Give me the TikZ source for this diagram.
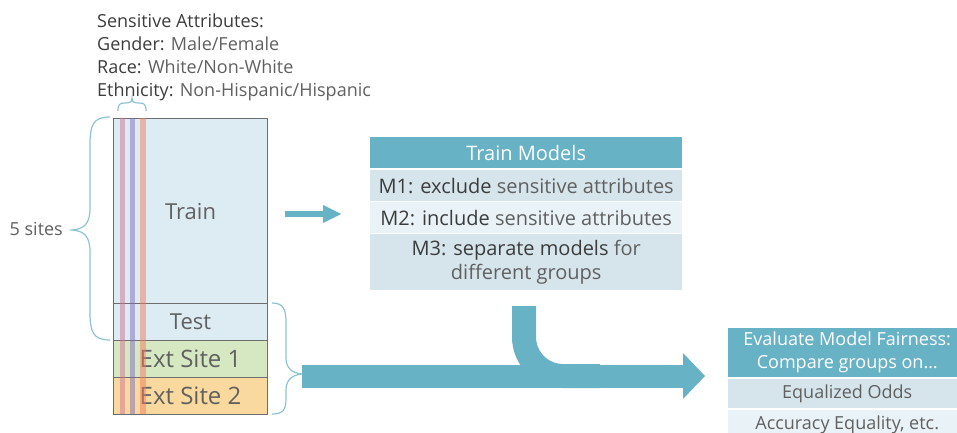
\documentclass[tikz,border=0pt]{standalone}
\usepackage{fontspec}
\setmainfont{Open Sans}
\usetikzlibrary{arrows.meta}
\definecolor{tealA}{HTML}{68B2C6}
\definecolor{braceC}{HTML}{8AC3D3}
\definecolor{trainfill}{HTML}{DCECF2}
\definecolor{extA}{HTML}{D5E8C2}
\definecolor{extB}{HTML}{F9D99E}
\definecolor{rowA}{HTML}{D6E5EC}
\definecolor{rowB}{HTML}{E9F3F7}
\definecolor{txtdark}{HTML}{3C3C3C}
\definecolor{txtlight}{HTML}{606060}
\definecolor{borderC}{HTML}{6E6E6E}
\definecolor{stripeP}{HTML}{D27298}
\definecolor{stripeB}{HTML}{7E6EBE}
\definecolor{stripeS}{HTML}{F47A5E}
\newcommand{\dk}[1]{{\color{txtdark}#1}}
\begin{document}
\begin{tikzpicture}[x=1pt,y=-1pt,
  section/.style={draw=borderC, line width=1.1pt, minimum width=154pt,
    anchor=north west, inner sep=0pt, text=txtlight,
    font=\fontsize{22}{26}\selectfont},
  extsection/.style={section, font=\fontsize{24}{28}\selectfont},
  hdr/.style={fill=tealA, text=white, anchor=north west, inner sep=0pt},
  rowbox/.style={anchor=north west, inner sep=0pt, text=txtlight},
  attr/.style={anchor=base west, inner sep=0pt, text=txtlight,
    font=\fontsize{18}{23}\selectfont},
  bracestyle/.style={draw=braceC, line width=1.2pt},
  band/.style={draw=tealA}
]
\clip (0,0) rectangle (957,433);

% sensitive attributes text
\node[attr] (attr1) at (97,28) {\dk{Sensitive Attributes:}};
\node[attr] (attr2) at (97,51) {\dk{Gender:} Male/Female};
\node[attr] (attr3) at (97,74) {\dk{Race:} White/Non-White};
\node[attr] (attr4) at (97,97) {\dk{Ethnicity:} Non-Hispanic/Hispanic};

% data sections
\node[section, fill=trainfill, minimum height=185pt] (train) at (113,118) {Train};
\node[section, fill=trainfill, minimum height=37pt] (test) at (113,303) {Test};
\node[extsection, fill=extA, minimum height=37pt] (ext1) at (113,340) {Ext Site 1};
\node[extsection, fill=extB, minimum height=37pt] (ext2) at (113,377) {Ext Site 2};

% attribute stripes
\fill[stripeP, opacity=0.5] (120,118) rectangle (125,414);
\fill[stripeB, opacity=0.5] (130,118) rectangle (135,414);
\fill[stripeS, opacity=0.5] (140,118) rectangle (146,414);

% small top brace
\draw[bracestyle] (118,111) .. controls (118,104) and (120,103) .. (125,103)
  .. controls (130,103) and (132,102) .. (132,98)
  .. controls (132,102) and (134,103) .. (139,103)
  .. controls (144,103) and (146,104) .. (146,111);

% left brace
\draw[bracestyle] (110,117) .. controls (93,117) and (90,125) .. (90,145)
  -- (90,208) .. controls (90,224) and (84,229) .. (72,230)
  .. controls (84,231) and (90,236) .. (90,252)
  -- (90,312) .. controls (90,332) and (93,340) .. (110,340);
\node[anchor=east, inner sep=0pt, text=txtlight, font=\fontsize{18}{22}\selectfont] (sites) at (63,229) {5 sites};

% right brace
\draw[bracestyle] (272,303) .. controls (283,303) and (286,309) .. (286,322)
  -- (286,358) .. controls (286,368) and (292,373) .. (302,374)
  .. controls (292,375) and (286,380) .. (286,390)
  -- (286,398) .. controls (286,410) and (283,414) .. (272,414);

% Train models box
\node[hdr, minimum width=312pt, minimum height=31pt, font=\fontsize{20}{24}\selectfont] (mhead) at (370,137) {Train Models};
\node[rowbox, fill=rowA, minimum width=312pt, minimum height=31pt, font=\fontsize{20}{24}\selectfont] (m1) at (370,170) {\dk{M1: exclude} sensitive attributes};
\node[rowbox, fill=rowB, minimum width=312pt, minimum height=31pt, font=\fontsize{20}{24}\selectfont] (m2) at (370,202) {\dk{M2: include} sensitive attributes};
\node[rowbox, fill=rowA, minimum width=312pt, minimum height=56pt, align=center, font=\fontsize{20}{24}\selectfont] (m3) at (370,234) {\dk{M3: separate models} for\\different groups};

% evaluate box
\node[hdr, minimum width=238pt, minimum height=49pt, align=center, font=\fontsize{18}{23}\selectfont] (ehead) at (728,328) {Evaluate Model Fairness:\\Compare groups on\ldots};
\node[rowbox, fill=rowA, minimum width=238pt, minimum height=29pt, font=\fontsize{18}{22}\selectfont] (e1) at (728,379) {Equalized Odds};
\node[rowbox, fill=rowB, minimum width=238pt, minimum height=29pt, font=\fontsize{18}{22}\selectfont] (e2) at (728,410) {Accuracy Equality, etc.};

% connectors
\coordinate (sa) at (285,214);
\coordinate (sb) at (341,214);
\draw[band, line width=6pt, -{Triangle[length=18pt,width=18pt,line width=0pt]}] (sa) -- (sb);

\coordinate (pipetop) at (524,306);
\coordinate (pipeend) at (600,376);
\draw[band, line width=24pt] (pipetop) -- (524,337)
  .. controls (524,358.5) and (541.5,376) .. (563,376) -- (pipeend);

\coordinate (bigstart) at (302,376);
\coordinate (bigend) at (705,376);
\draw[band, line width=23pt, -{Triangle[length=22pt,width=46pt,line width=0pt]}] (bigstart) -- (bigend);
\end{tikzpicture}
\end{document}
